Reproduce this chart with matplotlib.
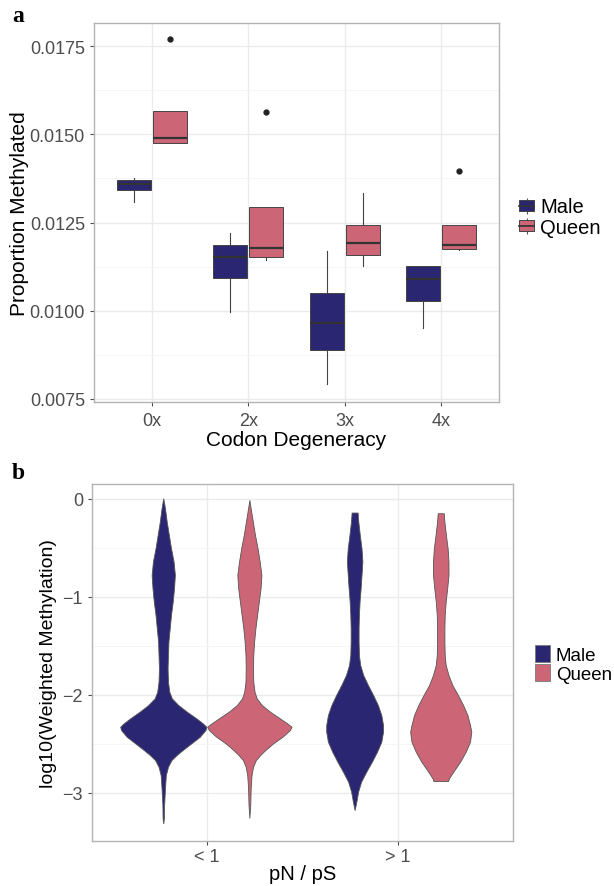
import numpy as np
import matplotlib
matplotlib.use('Agg')
import matplotlib.pyplot as plt
from matplotlib.patches import Patch
from matplotlib.lines import Line2D
from matplotlib.ticker import FixedLocator, FormatStrFormatter

plt.rcParams['font.family'] = ['Liberation Sans', 'DejaVu Sans']

MALE_COLOR = '#2b2672'
QUEEN_COLOR = '#cc6677'
GRID = '#ebebeb'
BORDER = '#b3b3b3'
TICKC = '#4d4d4d'

# ---- panel a: box plot stats ----
degeneracy = ['0x', '2x', '3x', '4x']
male_lo = [0.01309, 0.00996, 0.00793, 0.00951]
male_q1 = [0.01342, 0.01093, 0.00889, 0.01028]
male_med = [0.01359, 0.01152, 0.00966, 0.01090]
male_q3 = [0.01371, 0.01186, 0.01050, 0.01126]
male_hi = [0.01376, 0.01219, 0.01170, 0.01126]
male_out = [[], [], [], []]
queen_lo = [0.01477, 0.01145, 0.01127, 0.01172]
queen_q1 = [0.01477, 0.01152, 0.01158, 0.01175]
queen_med = [0.01489, 0.01179, 0.01193, 0.01185]
queen_q3 = [0.01567, 0.01293, 0.01244, 0.01244]
queen_hi = [0.01567, 0.01293, 0.01333, 0.01244]
queen_out = [[0.01772], [0.01564], [], [0.01395]]

# ---- panel b: violin outlines (y, relative half width) ----
ratio_groups = ['< 1', '> 1']
male_lt1_y = [0, -0.102, -0.238, -0.374, -0.510, -0.646, -0.782, -0.918, -1.054, -1.190,
              -1.327, -1.463, -1.599, -1.735, -1.871, -1.973, -2.041, -2.109, -2.177, -2.245,
              -2.296, -2.330, -2.364, -2.432, -2.500, -2.568, -2.619, -2.670, -2.738, -2.823,
              -2.959, -3.129, -3.265, -3.316]
male_lt1_w = [0, .04, .08, .13, .18, .24, .27, .25, .22, .18,
              .15, .12, .11, .10, .11, .14, .20, .35, .55, .77,
              .92, 1.0, .98, .85, .65, .45, .31, .19, .11, .06,
              .04, .02, .015, 0]
queen_lt1_y = [-0.017, -0.102, -0.238, -0.374, -0.510, -0.646, -0.782, -0.918, -1.054, -1.190,
               -1.327, -1.463, -1.599, -1.735, -1.871, -1.973, -2.041, -2.109, -2.177, -2.245,
               -2.296, -2.330, -2.364, -2.432, -2.500, -2.568, -2.619, -2.670, -2.738, -2.823,
               -2.959, -3.129, -3.26]
queen_lt1_w = [0, .03, .08, .13, .19, .24, .28, .26, .22, .18,
               .14, .11, .09, .085, .09, .12, .17, .29, .48, .71,
               .88, .98, .94, .77, .55, .37, .25, .15, .085, .05,
               .03, .02, 0]
male_gt1_y = [-0.146, -0.238, -0.374, -0.510, -0.646, -0.782, -0.918, -1.054, -1.190, -1.327,
              -1.463, -1.599, -1.701, -1.803, -1.905, -2.007, -2.109, -2.211, -2.313, -2.381,
              -2.483, -2.585, -2.687, -2.789, -2.891, -2.993, -3.095, -3.180]
male_gt1_w = [.07, .085, .12, .16, .18, .16, .14, .115, .10, .092,
              .092, .10, .13, .20, .31, .43, .54, .62, .66, .66,
              .62, .52, .40, .27, .15, .08, .04, 0]
queen_gt1_y = [-0.153, -0.238, -0.374, -0.510, -0.646, -0.782, -0.918, -1.054, -1.190, -1.327,
               -1.463, -1.599, -1.701, -1.803, -1.905, -2.007, -2.109, -2.211, -2.313, -2.381,
               -2.483, -2.585, -2.687, -2.789, -2.857, -2.884]
queen_gt1_w = [.07, .085, .12, .16, .18, .18, .15, .115, .092, .085,
               .085, .092, .115, .18, .27, .40, .52, .62, .68, .71,
               .68, .58, .45, .29, .19, .17]


def style_axes(ax):
    ax.set_facecolor('white')
    for s in ax.spines.values():
        s.set_color(BORDER)
        s.set_linewidth(1.0)
    ax.tick_params(axis='both', colors=TICKC, length=3, width=0.8, labelsize=13, labelcolor=TICKC)
    ax.grid(True, which='major', color=GRID, lw=1.0, zorder=0)
    ax.grid(True, which='minor', axis='y', color='#f4f4f4', lw=0.6, zorder=0)
    ax.tick_params(which='minor', length=0)
    ax.set_axisbelow(True)


fig = plt.figure(figsize=(6.14, 8.87), dpi=100)

# ---------------- panel a ----------------
ax1 = fig.add_axes([94 / 614, 1 - 403 / 887, (499 - 94) / 614, (403 - 24) / 887])
style_axes(ax1)
x = np.arange(1, len(degeneracy) + 1)
off = 0.1875


def make_stats(lo, q1, med, q3, hi, out):
    return [dict(whislo=a, q1=b, med=c, q3=d, whishi=e, fliers=f)
            for a, b, c, d, e, f in zip(lo, q1, med, q3, hi, out)]


for stats, pos, col in [(make_stats(male_lo, male_q1, male_med, male_q3, male_hi, male_out), x - off, MALE_COLOR),
                        (make_stats(queen_lo, queen_q1, queen_med, queen_q3, queen_hi, queen_out), x + off, QUEEN_COLOR)]:
    ax1.bxp(stats, positions=pos, widths=0.35, patch_artist=True, showcaps=False,
            boxprops=dict(facecolor=col, edgecolor='#444444', linewidth=0.7),
            medianprops=dict(color='#333333', linewidth=1.6),
            whiskerprops=dict(color='#444444', linewidth=0.8),
            flierprops=dict(marker='o', markerfacecolor='#222222', markeredgecolor='#222222', markersize=3.5),
            manage_ticks=False, zorder=3)

ax1.set_xlim(0.4, 4.6)
ax1.set_ylim(0.00741, 0.01816)
ax1.set_xticks(x)
ax1.set_xticklabels(degeneracy)
ax1.yaxis.set_major_locator(FixedLocator([0.0075, 0.0100, 0.0125, 0.0150, 0.0175]))
ax1.yaxis.set_minor_locator(FixedLocator([0.00875, 0.01125, 0.01375, 0.01625]))
ax1.yaxis.set_major_formatter(FormatStrFormatter('%.4f'))
ax1.tick_params(axis='x', pad=4)
ax1.set_xlabel('Codon Degeneracy', fontsize=15, labelpad=1)
ax1.set_ylabel('Proportion Methylated', fontsize=15)
ax1.yaxis.set_label_coords(-0.16, 0.5)

h_male = (Line2D([], [], marker='|', ls='none', color='#555555', markersize=12, markeredgewidth=0.8),
          Patch(facecolor=MALE_COLOR, edgecolor='#444444', lw=0.7),
          Line2D([], [], color='#333333', lw=1.2))
h_queen = (Line2D([], [], marker='|', ls='none', color='#555555', markersize=12, markeredgewidth=0.8),
           Patch(facecolor=QUEEN_COLOR, edgecolor='#444444', lw=0.7),
           Line2D([], [], color='#333333', lw=1.2))
fig.legend([h_male, h_queen], ['Male', 'Queen'], loc='center left',
           bbox_to_anchor=(505 / 614, 1 - 218 / 887), frameon=False, fontsize=14.5,
           handlelength=0.75, handleheight=0.5, labelspacing=0.05, handletextpad=0.3,
           borderpad=0.2)

fig.text(12 / 614, 1 - 16 / 887, 'a', fontsize=17, fontweight='bold',
         family='Liberation Serif', va='center', ha='left')

# ---------------- panel b ----------------
ax2 = fig.add_axes([92 / 614, 1 - 842 / 887, (513 - 92) / 614, (842 - 485) / 887])
style_axes(ax2)
half = 0.225
dodge = 0.225
violins = [(1 - dodge, male_lt1_y, male_lt1_w, MALE_COLOR),
           (1 + dodge, queen_lt1_y, queen_lt1_w, QUEEN_COLOR),
           (2 - dodge, male_gt1_y, male_gt1_w, MALE_COLOR),
           (2 + dodge, queen_gt1_y, queen_gt1_w, QUEEN_COLOR)]
for pos, ys, ws, col in violins:
    ys = np.array(ys)
    ws = np.array(ws) * half
    px = np.concatenate([pos - ws, (pos + ws)[::-1]])
    py = np.concatenate([ys, ys[::-1]])
    ax2.fill(px, py, facecolor=col, edgecolor='#555555', linewidth=0.6, zorder=3)

ax2.set_xlim(0.4, 2.6)
ax2.set_ylim(-3.49, 0.15)
ax2.set_xticks([1, 2])
ax2.set_xticklabels(ratio_groups)
ax2.yaxis.set_major_locator(FixedLocator([-3, -2, -1, 0]))
ax2.yaxis.set_minor_locator(FixedLocator([-3.5, -2.5, -1.5, -0.5]))
ax2.tick_params(axis='x', pad=2)
ax2.set_xlabel('pN / pS', fontsize=14.5, labelpad=-1)
ax2.set_ylabel('log10(Weighted Methylation)', fontsize=14)
ax2.yaxis.set_label_coords(-0.082, 0.5)

fig.legend([Patch(facecolor=MALE_COLOR, edgecolor='#777777', lw=0.6),
            Patch(facecolor=QUEEN_COLOR, edgecolor='#777777', lw=0.6)],
           ['Male', 'Queen'], loc='center left',
           bbox_to_anchor=(522 / 614, 1 - 665 / 887), frameon=False, fontsize=13.5,
           handlelength=0.8, handleheight=1.0, labelspacing=0.0, handletextpad=0.3,
           borderpad=0.2)

fig.text(12 / 614, 1 - 474 / 887, 'b', fontsize=17, fontweight='bold',
         family='Liberation Serif', va='center', ha='left')

fig.savefig('out.png', dpi=100, facecolor='white')
